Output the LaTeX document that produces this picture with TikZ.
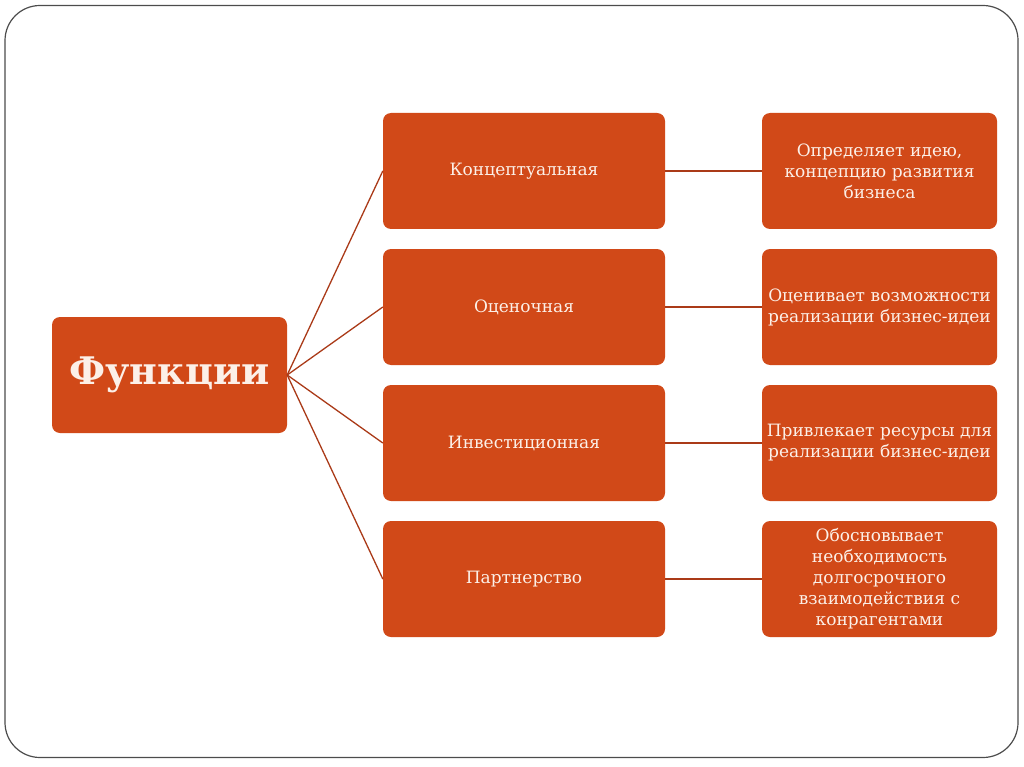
\documentclass[tikz,border=0pt]{standalone}
\usepackage{fontspec}
\setmainfont{DejaVu Serif}
\definecolor{boxfill}{RGB}{209,73,24}
\definecolor{linec}{RGB}{170,58,24}
\definecolor{txt}{RGB}{252,240,232}
\begin{document}
\begin{tikzpicture}[x=1pt,y=-1pt,
  box/.style={draw=none,fill=boxfill,rounded corners=8pt,text=txt,align=center,inner sep=0pt},
  mid/.style={box,minimum width=282pt,minimum height=116pt,font=\fontsize{17}{21}\selectfont},
  rbox/.style={box,minimum width=235pt,minimum height=116pt,text width=232pt,font=\fontsize{17}{21}\selectfont},
  conn/.style={draw=linec,line width=1.3pt}]
\useasboundingbox (0,0) rectangle (1024,767);
\draw[rounded corners=35pt,draw=black!70,line width=1.2pt] (5,5.5) rectangle (1018,757.5);
\node[box,minimum width=235pt,minimum height=116pt,font=\fontsize{38}{44}\selectfont\bfseries] (f) at (169.5,375) {Функции};
\node[mid] (m1) at (524,171) {Концептуальная};
\node[mid] (m2) at (524,307) {Оценочная};
\node[mid] (m3) at (524,443) {Инвестиционная};
\node[mid] (m4) at (524,579) {Партнерство};
\node[rbox] (r1) at (879.5,171) {Определяет идею,\\концепцию развития\\бизнеса};
\node[rbox] (r2) at (879.5,307) {Оценивает возможности\\реализации бизнес-идеи};
\node[rbox] (r3) at (879.5,443) {Привлекает ресурсы для\\реализации бизнес-идеи};
\node[rbox] (r4) at (879.5,579) {Обосновывает\\необходимость\\долгосрочного\\взаимодействия с\\конрагентами};
\foreach \i in {1,...,4}{
  \draw[conn] (f.east) -- (m\i.west);
  \draw[conn] (m\i.east) -- (r\i.west);
}
\end{tikzpicture}
\end{document}
